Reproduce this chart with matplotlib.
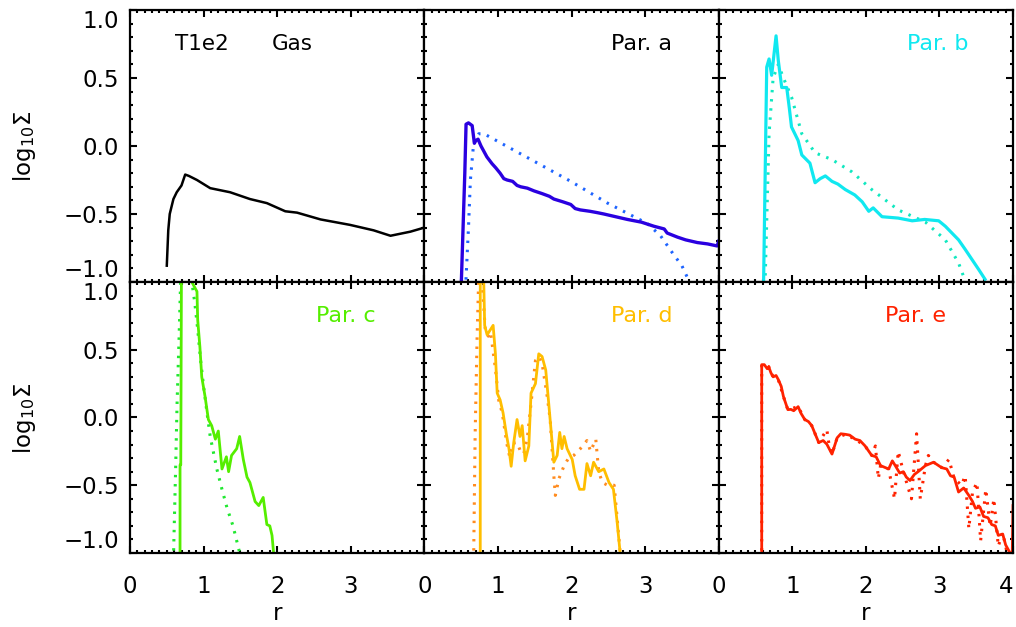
import matplotlib
matplotlib.use("Agg")
import matplotlib.pyplot as plt
from matplotlib.ticker import MultipleLocator, FixedLocator, FixedFormatter

plt.rcParams['font.family'] = ['DejaVu Sans']
plt.rcParams['mathtext.default'] = 'regular'

# ---------------- data ----------------
# Gas (black)
r_gas = [0.50, 0.52, 0.54, 0.59, 0.635, 0.70, 0.75, 0.80, 0.91, 1.09, 1.36, 1.63, 1.86, 2.11, 2.27, 2.59, 2.99, 3.31, 3.54, 3.81, 4.0]
y_gas = [-0.88, -0.62, -0.50, -0.39, -0.34, -0.29, -0.21, -0.22, -0.25, -0.31, -0.34, -0.39, -0.42, -0.48, -0.49, -0.54, -0.58, -0.62, -0.66, -0.63, -0.60]

# Par. a
r_a = [0.50, 0.55, 0.567, 0.60, 0.65, 0.68, 0.70, 0.73, 0.77, 0.85, 0.92, 0.97, 1.03, 1.08, 1.125, 1.20, 1.26, 1.31, 1.40, 1.49, 1.60, 1.70, 1.76, 1.88, 1.99, 2.05, 2.12, 2.25, 2.35, 2.44, 2.60, 2.76, 2.95, 3.12, 3.26, 3.30, 3.44, 3.55, 3.71, 3.85, 3.98, 4.0]
y_a = [-1.05, -0.20, 0.16, 0.17, 0.15, 0.02, 0.04, 0.05, 0.00, -0.08, -0.13, -0.16, -0.20, -0.24, -0.25, -0.26, -0.29, -0.30, -0.31, -0.33, -0.35, -0.37, -0.39, -0.41, -0.43, -0.46, -0.47, -0.48, -0.49, -0.50, -0.52, -0.54, -0.56, -0.59, -0.61, -0.64, -0.67, -0.69, -0.71, -0.72, -0.735, -0.70]
r_a_dot = [0.56, 0.60, 0.626, 0.67, 0.74, 0.81, 1.35, 1.99, 2.49, 3.03, 3.21, 3.39, 3.50, 3.62]
y_a_dot = [-1.05, -0.60, -0.25, 0.02, 0.09, 0.09, -0.07, -0.26, -0.42, -0.57, -0.66, -0.80, -0.88, -1.02]

# Par. b
r_b = [0.61, 0.653, 0.685, 0.72, 0.78, 0.81, 0.857, 0.925, 0.96, 0.99, 1.08, 1.13, 1.24, 1.31, 1.38, 1.45, 1.54, 1.62, 1.72, 1.85, 1.95, 2.04, 2.10, 2.22, 2.44, 2.63, 2.80, 2.99, 3.08, 3.26, 3.35, 3.53, 3.62]
y_b = [-1.02, 0.58, 0.64, 0.52, 0.81, 0.63, 0.43, 0.43, 0.28, 0.14, 0.04, -0.066, -0.126, -0.27, -0.24, -0.22, -0.26, -0.28, -0.32, -0.36, -0.41, -0.48, -0.455, -0.52, -0.53, -0.55, -0.54, -0.55, -0.59, -0.69, -0.76, -0.905, -0.98]
r_b_dot = [0.63, 0.685, 0.74, 0.81, 0.88, 0.99, 1.13, 1.31, 1.54, 1.81, 2.08, 2.44, 2.81, 3.08, 3.26, 3.37]
y_b_dot = [-1.02, 0.09, 0.50, 0.60, 0.50, 0.36, 0.09, -0.05, -0.10, -0.19, -0.32, -0.47, -0.56, -0.69, -0.86, -1.02]

# Par. c
r_c = [0.68, 0.68, 0.69, 0.70, 0.72, 0.84, 0.91, 0.92, 0.95, 0.975, 1.02, 1.065, 1.11, 1.16, 1.20, 1.25, 1.31, 1.34, 1.38, 1.45, 1.49, 1.54, 1.59, 1.63, 1.70, 1.75, 1.81, 1.86, 1.90, 1.93, 1.96]
y_c = [-1.05, -0.35, -0.35, 1.20, 1.20, 1.00, 0.93, 0.72, 0.52, 0.30, 0.155, -0.015, -0.06, -0.16, -0.10, -0.38, -0.29, -0.40, -0.28, -0.23, -0.14, -0.31, -0.44, -0.48, -0.62, -0.65, -0.59, -0.79, -0.80, -0.87, -1.05]
r_c_dot = [0.59, 0.62, 0.64, 0.667, 0.69, 0.76, 0.84, 0.88, 0.92, 0.96, 1.00, 1.05, 1.09, 1.18, 1.25, 1.32, 1.40, 1.45, 1.50]
y_c_dot = [-1.05, -0.38, 0.11, 0.59, 1.05, 1.20, 1.00, 0.85, 0.65, 0.42, 0.23, 0.02, -0.14, -0.38, -0.53, -0.67, -0.80, -0.91, -1.02]

# Par. d
r_d = [0.76, 0.76, 0.78, 0.80, 0.82, 0.853, 0.90, 0.935, 0.966, 0.99, 1.03, 1.07, 1.115, 1.15, 1.18, 1.215, 1.26, 1.30, 1.33, 1.37, 1.42, 1.45, 1.51, 1.555, 1.60, 1.65, 1.69, 1.76, 1.805, 1.84, 1.87, 1.90, 1.94, 2.01, 2.05, 2.11, 2.17, 2.21, 2.26, 2.30, 2.37, 2.44, 2.51, 2.57, 2.62, 2.67]
y_d = [-1.05, 1.20, 1.20, 1.20, 0.68, 0.61, 0.65, 0.68, 0.47, 0.18, 0.13, 0.034, -0.124, -0.23, -0.36, -0.185, -0.015, -0.14, -0.06, -0.32, -0.21, 0.18, 0.25, 0.47, 0.45, 0.35, 0.107, -0.33, -0.28, -0.11, -0.23, -0.14, -0.23, -0.31, -0.43, -0.53, -0.53, -0.34, -0.43, -0.33, -0.40, -0.38, -0.48, -0.53, -0.77, -1.05]
r_d_dot = [0.67, 0.69, 0.717, 0.74, 0.78, 0.83, 0.87, 0.90, 0.966, 1.01, 1.06, 1.12, 1.16, 1.20, 1.26, 1.30, 1.35, 1.40, 1.46, 1.51, 1.56, 1.60, 1.67, 1.71, 1.76, 1.78, 1.83, 1.90, 1.96, 2.03, 2.12, 2.21, 2.26, 2.33, 2.37, 2.42, 2.49, 2.58, 2.62, 2.67]
y_d_dot = [-1.05, -0.14, 0.59, 1.05, 1.05, 0.63, 0.60, 0.63, 0.36, 0.13, 0.03, -0.19, -0.29, -0.19, -0.185, -0.24, -0.27, -0.15, 0.155, 0.42, 0.45, 0.40, 0.155, -0.015, -0.43, -0.575, -0.45, -0.355, -0.30, -0.28, -0.23, -0.17, -0.25, -0.16, -0.40, -0.48, -0.50, -0.50, -0.74, -1.05]

# Par. e
r_e = [0.585, 0.585, 0.62, 0.66, 0.68, 0.71, 0.74, 0.78, 0.81, 0.85, 0.88, 0.94, 0.98, 1.02, 1.08, 1.12, 1.17, 1.22, 1.265, 1.31, 1.36, 1.42, 1.47, 1.54, 1.61, 1.66, 1.72, 1.78, 1.855, 1.92, 1.99, 2.08, 2.14, 2.20, 2.31, 2.36, 2.40, 2.46, 2.51, 2.55, 2.60, 2.66, 2.71, 2.81, 2.92, 3.03, 3.10, 3.15, 3.20, 3.26, 3.33, 3.40, 3.45, 3.49, 3.55, 3.60, 3.66, 3.71, 3.76, 3.80, 3.86, 3.90, 3.96, 3.99, 4.0]
y_e = [-1.05, 0.39, 0.39, 0.36, 0.375, 0.33, 0.30, 0.31, 0.28, 0.23, 0.155, 0.058, 0.06, 0.05, 0.08, 0.03, -0.015, -0.03, -0.06, -0.12, -0.185, -0.17, -0.197, -0.27, -0.15, -0.12, -0.124, -0.13, -0.16, -0.17, -0.21, -0.28, -0.29, -0.355, -0.38, -0.32, -0.355, -0.41, -0.40, -0.44, -0.465, -0.42, -0.40, -0.355, -0.33, -0.37, -0.38, -0.43, -0.44, -0.55, -0.52, -0.575, -0.62, -0.67, -0.66, -0.73, -0.74, -0.79, -0.80, -0.87, -0.86, -0.94, -1.00, -1.00, -0.65]
r_e_dot = [0.585, 0.585, 0.62, 0.68, 0.74, 0.81, 0.88, 0.94, 1.08, 1.17, 1.265, 1.36, 1.47, 1.50, 1.54, 1.61, 1.72, 1.855, 1.99, 2.08, 2.13, 2.17, 2.20, 2.31, 2.39, 2.44, 2.51, 2.62, 2.69, 2.74, 2.81, 2.85, 2.92, 3.03, 3.13, 3.20, 3.30, 3.35, 3.40, 3.45, 3.51, 3.56, 3.63, 3.69, 3.74, 3.80, 3.86, 3.92, 3.98]
y_e_dot = [-1.05, 0.39, 0.39, 0.375, 0.30, 0.28, 0.155, 0.058, 0.08, -0.015, -0.06, -0.185, -0.09, -0.20, -0.27, -0.15, -0.124, -0.16, -0.21, -0.28, -0.21, -0.45, -0.355, -0.38, -0.60, -0.25, -0.40, -0.60, -0.12, -0.60, -0.355, -0.28, -0.33, -0.37, -0.31, -0.45, -0.50, -0.43, -0.82, -0.55, -0.48, -0.91, -0.53, -0.80, -0.60, -0.95, -0.85, -1.00, -1.05]

panels = [
    dict(label="Par. a", color="#2A00E0", dcolor="#1E64FF", tcolor="black", lw=2.4, r=r_a, y=y_a, rd=r_a_dot, yd=y_a_dot),
    dict(label="Par. b", color="#10E8F0", dcolor="#10E8C0", tcolor="#10E8F0", lw=2.3, r=r_b, y=y_b, rd=r_b_dot, yd=y_b_dot),
    dict(label="Par. c", color="#55EE00", dcolor="#20E830", tcolor="#55EE00", lw=2.0, r=r_c, y=y_c, rd=r_c_dot, yd=y_c_dot),
    dict(label="Par. d", color="#FFBE00", dcolor="#FF8C20", tcolor="#FFBE00", lw=2.0, r=r_d, y=y_d, rd=r_d_dot, yd=y_d_dot),
    dict(label="Par. e", color="#FF2200", dcolor="#FF2200", tcolor="#FF2200", lw=2.0, r=r_e, y=y_e, rd=r_e_dot, yd=y_e_dot),
]
label_x = [2.54, 2.56, 2.53, 2.54, 2.26]

# ---------------- figure ----------------
W, H = 1016, 627
fig = plt.figure(figsize=(W / 100, H / 100), dpi=100)
left_px, right_px = 130, 1013
top_px, mid_px, bot_px = 10, 282, 553
pw = (right_px - left_px) / 3

axes = []
for row in range(2):
    for col in range(3):
        x0 = (left_px + col * pw) / W
        if row == 0:
            y0 = 1 - mid_px / H
            h = (mid_px - top_px) / H
        else:
            y0 = 1 - bot_px / H
            h = (bot_px - mid_px) / H
        ax = fig.add_axes([x0, y0, pw / W, h])
        axes.append(ax)

tick_fs = 16.5
for i, ax in enumerate(axes):
    row, col = divmod(i, 3)
    ax.set_xlim(0, 4)
    ax.set_ylim(-1.0, 1.0)
    for s in ax.spines.values():
        s.set_linewidth(1.6)
    ax.xaxis.set_minor_locator(MultipleLocator(0.1))
    ax.yaxis.set_minor_locator(MultipleLocator(0.1))
    ax.tick_params(which='both', direction='in', top=True, right=True, width=1.5)
    ax.tick_params(which='major', length=5)
    ax.tick_params(which='minor', length=2.5)
    ax.tick_params(axis='x', pad=16, labelsize=tick_fs)
    ax.tick_params(axis='y', pad=8, labelsize=tick_fs)
    if col == 0:
        yt = [-1.0, -0.5, 0.0, 0.5, 1.0]
        ax.yaxis.set_major_locator(FixedLocator(yt))
        ax.yaxis.set_major_formatter(FixedFormatter(['\u22121.0', '\u22120.5', '0.0', '0.5', '1.0']))
        labs = ax.get_yticklabels()
        labs[0].set_va('bottom')
        labs[-1].set_va('top')
    else:
        ax.yaxis.set_major_locator(MultipleLocator(0.5))
        ax.set_yticklabels([])
    ax.xaxis.set_major_locator(FixedLocator([0, 1, 2, 3, 4]))
    if row == 1:
        if col == 2:
            ax.xaxis.set_major_formatter(FixedFormatter(['0', '1', '2', '3', '4']))
            ax.get_xticklabels()[-1].set_ha('right')
        else:
            ax.xaxis.set_major_formatter(FixedFormatter(['0', '1', '2', '3', '']))
    else:
        ax.set_xticklabels([])

# gas panel
ax0 = axes[0]
ax0.plot(r_gas, y_gas, color='black', lw=1.8)
ax0.text(0.61, 0.75, "T1e2", fontsize=15.5, va='center', ha='left')
ax0.text(1.93, 0.75, "Gas", fontsize=15.5, va='center', ha='left')

for p, ax, lx in zip(panels, axes[1:], label_x):
    ax.plot(p['rd'], p['yd'], color=p['dcolor'], lw=2.2, linestyle=(0, (0.8, 2.2)))
    ax.plot(p['r'], p['y'], color=p['color'], lw=p['lw'])
    ax.text(lx, 0.75, p['label'], fontsize=16, va='center', ha='left', color=p['tcolor'])

# axis labels
for yc in [146 / H, 418 / H]:
    fig.text(24 / W, 1 - yc, r'log$_{10}\Sigma$', rotation=90, ha='center', va='center', fontsize=16.5)
for c in range(3):
    fig.text((left_px + (c + 0.5) * pw) / W, 1 - 614 / H, 'r', ha='center', va='center', fontsize=16.5)

fig.savefig('out.png', dpi=100)
